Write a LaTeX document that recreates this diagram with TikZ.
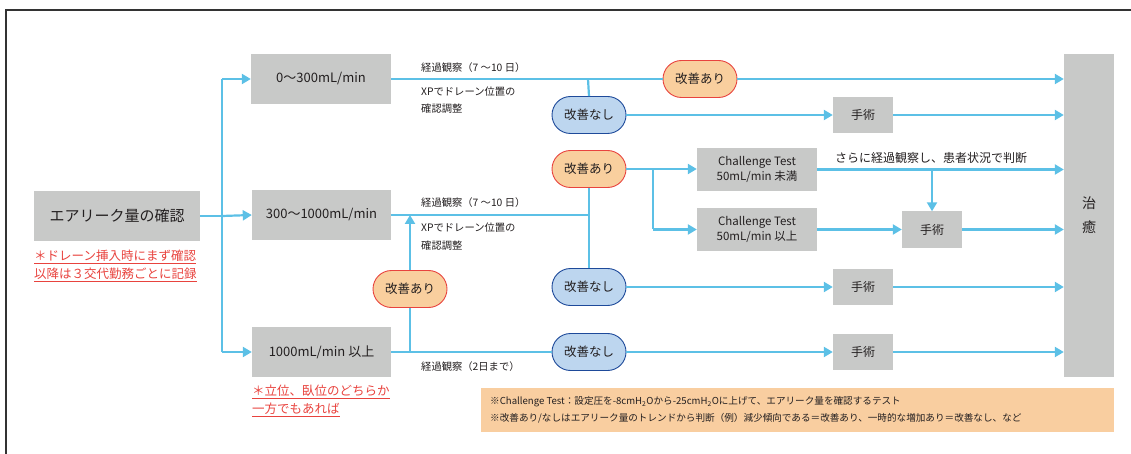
\documentclass[tikz,border=0pt]{standalone}
\usepackage{fontspec}
\setmainfont{Noto Sans CJK JP}
\usetikzlibrary{arrows.meta,shapes.misc}
\definecolor{boxgray}{HTML}{C8C9C8}
\definecolor{linec}{HTML}{5CC0E6}
\definecolor{okfill}{HTML}{F9CF9E}
\definecolor{okdraw}{HTML}{E8433E}
\definecolor{ngfill}{HTML}{BDD6EF}
\definecolor{ngdraw}{HTML}{1E4A9A}
\definecolor{redtxt}{HTML}{E8433E}
\definecolor{notefill}{HTML}{F9CEA0}
\definecolor{txt}{HTML}{231F20}
\definecolor{framec}{HTML}{333333}
\newcommand{\fs}[2]{\fontsize{#1}{#2}\selectfont}
\begin{document}
\begin{tikzpicture}[x=1pt,y=-1pt,
  gbox/.style={fill=boxgray, inner sep=0pt, text=txt, align=center},
  okpill/.style={rounded rectangle, fill=okfill, draw=okdraw, line width=0.9pt, minimum width=74pt, minimum height=37pt, inner sep=0pt, text=txt, font=\fs{12.5}{14}},
  ngpill/.style={rounded rectangle, fill=ngfill, draw=ngdraw, line width=0.9pt, minimum width=74pt, minimum height=37pt, inner sep=0pt, text=txt, font=\fs{12.5}{14}},
  conn/.style={draw=linec, line width=2.2pt},
  arr/.style={conn, -{Triangle[length=9pt,width=10pt]}},
  lbl/.style={anchor=west, inner sep=0pt, text=txt, font=\fs{10.3}{12}},
  rnote/.style={anchor=west, inner sep=0pt, text=redtxt, font=\fs{12.5}{14}},
  notetxt/.style={anchor=west, inner sep=0pt, text=txt, font=\fs{9.6}{11}}
]
\useasboundingbox (0,0) rectangle (1131,454);
\draw[framec, line width=1.2pt] (1131,10) -- (6,10) -- (6,454);

% main boxes
\node[gbox, minimum width=166pt, minimum height=50pt, font=\fs{15}{17}] (main) at (117,216) {エアリーク量の確認};
\node[gbox, minimum width=140pt, minimum height=50pt, font=\fs{13}{14}] (boxA) at (321,79) {0〜300mL/min};
\node[gbox, minimum width=139pt, minimum height=50pt, font=\fs{13}{14}] (boxB) at (321.5,215) {300〜1000mL/min};
\node[gbox, minimum width=139pt, minimum height=50pt, font=\fs{13}{14}] (boxC) at (321.5,352) {1000mL/min 以上};
\node[gbox, minimum width=50pt, minimum height=323pt, font=\fs{14}{24}] (heal) at (1089,215.5) {治\\癒};

% red notes
\node[rnote] (r1) at (34,257) {\underline{＊ドレーン挿入時にまず確認}};
\node[rnote] (r2) at (34,275) {\underline{以降は３交代勤務ごとに記録}};
\node[rnote] (r3) at (252,392) {\underline{＊立位、臥位のどちらか}};
\node[rnote] (r4) at (252,410) {\underline{一方でもあれば}};

% pills
\node[okpill] (okA) at (700,79) {改善あり};
\node[ngpill] (ngA) at (589,115) {改善なし};
\node[okpill] (okB) at (589,169) {改善あり};
\node[ngpill] (ngB) at (589,287) {改善なし};
\node[okpill] (okC) at (410,289) {改善あり};
\node[ngpill] (ngC) at (589,352) {改善なし};

% challenge test boxes
\node[gbox, minimum width=120pt, minimum height=43pt, font=\fs{11.5}{15}] (ct1) at (757,169.5) {Challenge Test\\50mL/min 未満};
\node[gbox, minimum width=120pt, minimum height=43pt, font=\fs{11.5}{15}] (ct2) at (757,229.5) {Challenge Test\\50mL/min 以上};

% surgery boxes
\node[gbox, minimum width=60pt, minimum height=36pt, font=\fs{12}{14}] (s1) at (863,115) {手術};
\node[gbox, minimum width=60pt, minimum height=36pt, font=\fs{12}{14}] (s2) at (932,229.5) {手術};
\node[gbox, minimum width=60pt, minimum height=36pt, font=\fs{12}{14}] (s3) at (863,287) {手術};
\node[gbox, minimum width=60pt, minimum height=36pt, font=\fs{12}{14}] (s4) at (863,352) {手術};

% labels
\node[lbl] (la1) at (421,68) {経過観察（7 〜10 日）};
\node[lbl] (la2) at (421,92) {XPでドレーン位置の};
\node[lbl] (la3) at (421,108.5) {確認調整};
\node[lbl] (lb1) at (421,203) {経過観察（7 〜10 日）};
\node[lbl] (lb2) at (421,228) {XPでドレーン位置の};
\node[lbl] (lb3) at (421,245.5) {確認調整};
\node[lbl] (lc1) at (421,367) {経過観察（2日まで）};
\node[anchor=center, inner sep=0pt, text=txt, font=\fs{12}{14}] (lct) at (931,158) {さらに経過観察し、患者状況で判断};

% note box
\node[fill=notefill, minimum width=633pt, minimum height=44pt, inner sep=0pt] (note) at (797.5,410) {};
\node[notetxt] (n1) at (490,402) {※Challenge Test：設定圧を-8cmH\textsubscript{2}Oから-25cmH\textsubscript{2}Oに上げて、エアリーク量を確認するテスト};
\node[notetxt] (n2) at (490,418) {※改善あり/なしはエアリーク量のトレンドから判断（例）減少傾向である＝改善あり、一時的な増加あり＝改善なし、など};

% coordinates
\coordinate (br) at (222,216);
\coordinate (brT) at (222,79);
\coordinate (brB) at (222,352);
\coordinate (jA) at (588,79);
\coordinate (jB) at (588,215);
\coordinate (jC1) at (653,169);
\coordinate (jC2) at (653,229.5);
\coordinate (jD) at (410,352);
\coordinate (jDt) at (410,215);
\coordinate (jE) at (932,169);

% connectors
\draw[conn] (main.east) -- (br);
\draw[conn] (brT) -- (brB);
\draw[arr] (brT) -- (boxA.west);
\draw[arr] (br) -- (boxB.west);
\draw[arr] (brB) -- (boxC.west);

% row A
\draw[conn] (boxA.east) -- (okA.west);
\draw[arr] (okA.east) -- (okA.east -| heal.west);
\draw[conn] (jA) -- (ngA.north);
\draw[arr] (ngA.east) -- (s1.west);
\draw[arr] (s1.east) -- (s1.east -| heal.west);

% row B
\draw[conn] (boxB.east) -- (jB);
\draw[conn] (okB.south) -- (ngB.north);
\draw[arr] (okB.east) -- (ct1.west |- okB.east);
\draw[conn] (jC1) -- (jC2);
\draw[arr] (jC2) -- (ct2.west);
\draw[arr] (ct1.east) -- (ct1.east -| heal.west);
\draw[arr] (jE) -- (s2.north);
\draw[arr] (ct2.east) -- (s2.west);
\draw[arr] (s2.east) -- (s2.east -| heal.west);
\draw[arr] (ngB.east) -- (s3.west);
\draw[arr] (s3.east) -- (s3.east -| heal.west);

% row C
\draw[conn] (boxC.east) -- (ngC.west);
\draw[conn] (jD) -- (okC.south);
\draw[arr] (okC.north) -- (jDt);
\draw[arr] (ngC.east) -- (s4.west);
\draw[arr] (s4.east) -- (s4.east -| heal.west);
\end{tikzpicture}
\end{document}
